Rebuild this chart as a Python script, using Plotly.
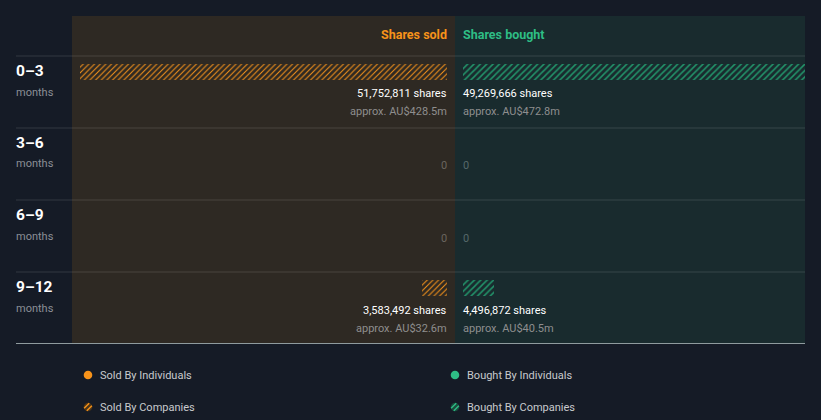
import math
import plotly.graph_objects as go

# ---- data ----
periods = ["0–3", "3–6", "6–9", "9–12"]
period_unit = ["months", "months", "months", "months"]
sold_shares = [51752811, 0, 0, 3583492]
bought_shares = [49269666, 0, 0, 4496872]
sold_value = ["AU$428.5m", None, None, "AU$32.6m"]
bought_value = ["AU$472.8m", None, None, "AU$40.5m"]
legend_sold = ["Sold By Individuals", "Sold By Companies"]
legend_bought = ["Bought By Individuals", "Bought By Companies"]

# ---- layout constants (pixels) ----
W, H = 821, 420
BG = "#151b26"
SOLD_BG = "#2e2923"
BOUGHT_BG = "#192b2e"
ORANGE = "#f7931a"
GREEN = "#2ebd85"
GREEN_BAR = "#22946a"
PANEL_TOP, HEADER_BOT, PANEL_BOT = 16, 56, 344
ROW_H = 72
SOLD_L, MID, BOUGHT_R = 72, 455, 805
SOLD_BAR_L, SOLD_BAR_R = 80, 447
BOUGHT_BAR_L = 463
BAR_TOP_OFF = 8
BAR_H = 16
PAD = 2  # annotation inner padding compensation
FONT = "Roboto, 'Open Sans', sans-serif"


def px(x):
    return x / W


def py(y):
    return 1 - y / H


fig = go.Figure()

idx = list(range(len(periods)))
fig.add_trace(go.Bar(
    x=sold_shares, y=idx, orientation="h", xaxis="x", yaxis="y",
    width=BAR_H / ROW_H,
    marker=dict(color=ORANGE, line=dict(width=0),
                pattern=dict(shape="/", fgcolor=ORANGE, bgcolor="rgba(0,0,0,0)",
                             size=4, solidity=0.25, fillmode="replace")),
    hoverinfo="skip", showlegend=False))
fig.add_trace(go.Bar(
    x=bought_shares, y=idx, orientation="h", xaxis="x2", yaxis="y",
    width=BAR_H / ROW_H,
    marker=dict(color=GREEN_BAR, line=dict(width=0),
                pattern=dict(shape="/", fgcolor=GREEN_BAR, bgcolor="rgba(0,0,0,0)",
                             size=4.5, solidity=0.33, fillmode="replace")),
    hoverinfo="skip", showlegend=False))

shapes = [
    dict(type="rect", xref="paper", yref="paper", x0=px(SOLD_L), x1=px(MID),
         y0=py(PANEL_BOT), y1=py(PANEL_TOP), fillcolor=SOLD_BG, line=dict(width=0), layer="below"),
    dict(type="rect", xref="paper", yref="paper", x0=px(MID), x1=px(BOUGHT_R),
         y0=py(PANEL_BOT), y1=py(PANEL_TOP), fillcolor=BOUGHT_BG, line=dict(width=0), layer="below"),
]
for i in range(len(periods)):
    yl = HEADER_BOT + ROW_H * i
    shapes.append(dict(type="line", xref="paper", yref="paper", x0=px(16), x1=px(BOUGHT_R),
                       y0=py(yl), y1=py(yl), line=dict(color="rgba(255,255,255,0.13)", width=1),
                       layer="below"))
shapes.append(dict(type="line", xref="paper", yref="paper", x0=px(16), x1=px(BOUGHT_R),
                   y0=py(PANEL_BOT - 0.5), y1=py(PANEL_BOT - 0.5),
                   line=dict(color="#8f9b9e", width=1)))

annotations = [
    dict(text="<b>Shares sold</b>", x=px(SOLD_BAR_R + PAD), y=py(34), xref="paper", yref="paper",
         xanchor="right", yanchor="middle", showarrow=False, font=dict(color=ORANGE, size=12.5, family=FONT)),
    dict(text="<b>Shares bought</b>", x=px(BOUGHT_BAR_L - PAD), y=py(34), xref="paper", yref="paper",
         xanchor="left", yanchor="middle", showarrow=False, font=dict(color=GREEN, size=12.5, family=FONT)),
]

for i, (p, u) in enumerate(zip(periods, period_unit)):
    top = HEADER_BOT + ROW_H * i
    annotations.append(dict(text=f"<b>{p}</b>", x=px(16 - PAD), y=py(top + 15), xref="paper", yref="paper",
                            xanchor="left", yanchor="middle", showarrow=False,
                            font=dict(color="#ffffff", size=15.5, family=FONT)))
    annotations.append(dict(text=u, x=px(16 - PAD), y=py(top + 36), xref="paper", yref="paper",
                            xanchor="left", yanchor="middle", showarrow=False,
                            font=dict(color="#8b8f96", size=11, family=FONT)))
    for shares, val, xa, anchor, zc in [
        (sold_shares[i], sold_value[i], SOLD_BAR_R + PAD, "right", "#6a655f"),
        (bought_shares[i], bought_value[i], BOUGHT_BAR_L - PAD, "left", "#56686a"),
    ]:
        if shares:
            annotations.append(dict(text=f"{shares:,} shares", x=px(xa), y=py(top + 38),
                                    xref="paper", yref="paper", xanchor=anchor, yanchor="middle",
                                    showarrow=False, font=dict(color="#ffffff", size=11, family=FONT)))
            annotations.append(dict(text=f"approx. {val}", x=px(xa), y=py(top + 56),
                                    xref="paper", yref="paper", xanchor=anchor, yanchor="middle",
                                    showarrow=False, font=dict(color="#8e8e8e", size=11, family=FONT)))
        else:
            annotations.append(dict(text="0", x=px(xa), y=py(top + 38),
                                    xref="paper", yref="paper", xanchor=anchor, yanchor="middle",
                                    showarrow=False, font=dict(color=zc, size=11, family=FONT)))

# legend
for labels, color, dark, xd in [
    (legend_sold, ORANGE, "#4a3418", 88),
    (legend_bought, GREEN, "#1a4a3c", 455),
]:
    for j, lab in enumerate(labels):
        yc = 375 + 32 * j
        r = 4.3
        shapes.append(dict(type="circle", xref="paper", yref="paper",
                           x0=px(xd - r), x1=px(xd + r), y0=py(yc + r), y1=py(yc - r),
                           fillcolor=color if j == 0 else dark, line=dict(width=0)))
        if j == 1:
            for o in (-1.9, 1.9):
                half = math.sqrt(r * r - o * o) - 0.3
                cx = xd + o / math.sqrt(2)
                cy = yc + o / math.sqrt(2)
                dx = half / math.sqrt(2)
                shapes.append(dict(type="line", xref="paper", yref="paper",
                                   x0=px(cx - dx), x1=px(cx + dx),
                                   y0=py(cy + dx), y1=py(cy - dx),
                                   line=dict(color=color, width=1.4)))
        annotations.append(dict(text=lab, x=px(xd + 12 - PAD), y=py(yc), xref="paper", yref="paper",
                                xanchor="left", yanchor="middle", showarrow=False,
                                font=dict(color="#c8cacd", size=11, family=FONT)))

# y axis: value i sits at the bar centre of row i
y_lo = -(BAR_TOP_OFF + BAR_H / 2) / ROW_H
y_hi = y_lo + (PANEL_BOT - HEADER_BOT) / ROW_H

fig.update_layout(
    width=W, height=H, margin=dict(l=0, r=0, t=0, b=0),
    paper_bgcolor=BG, plot_bgcolor="rgba(0,0,0,0)",
    barmode="overlay", bargap=0,
    xaxis=dict(domain=[px(SOLD_BAR_L), px(SOLD_BAR_R)], range=[max(sold_shares), 0],
               visible=False, fixedrange=True),
    xaxis2=dict(domain=[px(BOUGHT_BAR_L), px(BOUGHT_R)], range=[0, max(bought_shares)],
                visible=False, fixedrange=True),
    yaxis=dict(domain=[py(PANEL_BOT), py(HEADER_BOT)], range=[y_hi, y_lo],
               visible=False, fixedrange=True),
    shapes=shapes, annotations=annotations,
)

fig.write_html("out.html", config={"displayModeBar": False},
               post_script="document.body.style.margin='0';document.body.style.background='#151b26';document.body.style.overflow='hidden';")
